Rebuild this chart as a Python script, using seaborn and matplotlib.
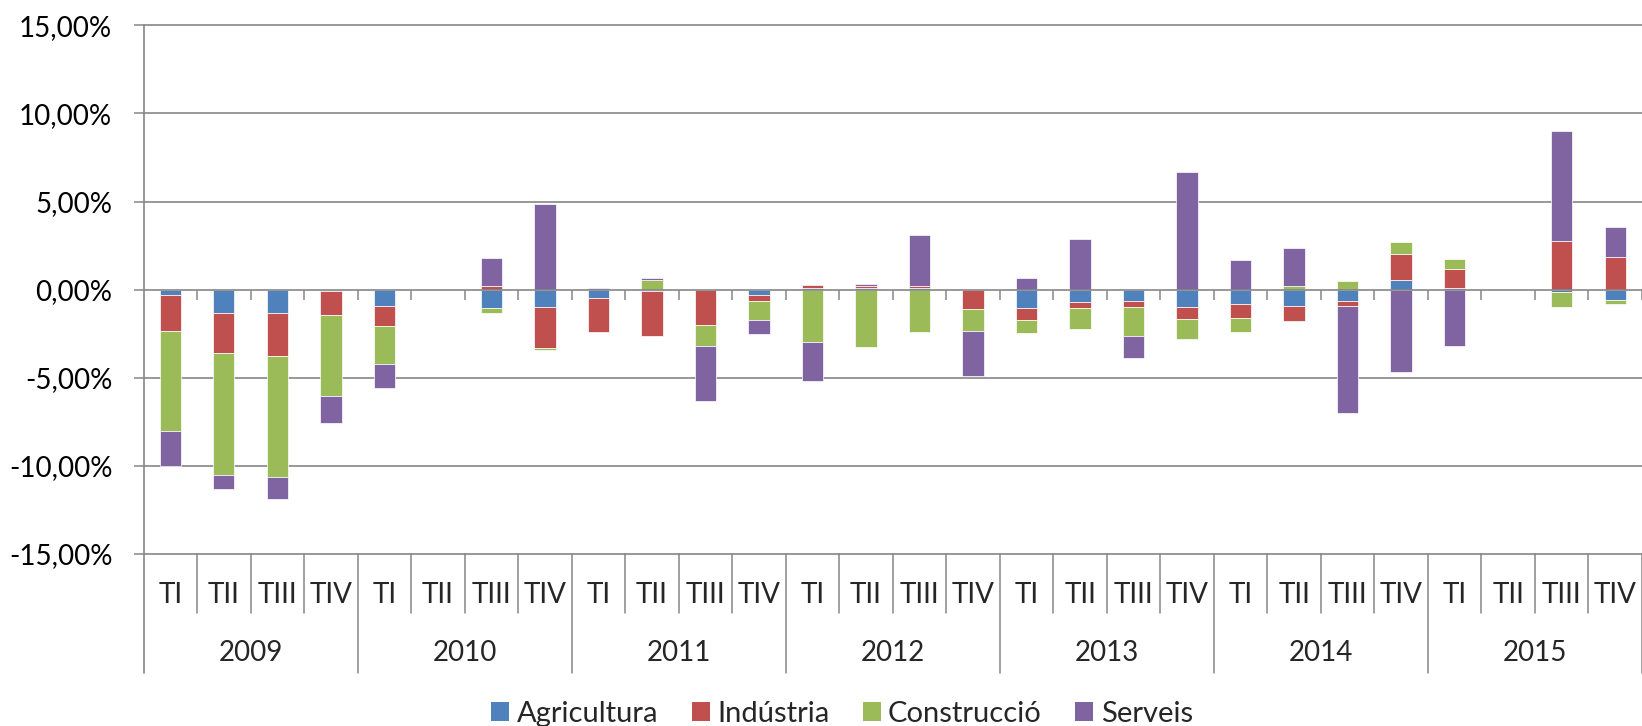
import numpy as np
import pandas as pd
import matplotlib
matplotlib.use("Agg")
import matplotlib.pyplot as plt
import matplotlib.transforms as mtransforms
from matplotlib.patches import Patch
from matplotlib.ticker import FuncFormatter
import seaborn as sns

# ---------------- data ----------------
years = ["2009", "2010", "2011", "2012", "2013", "2014", "2015"]
quarters = ["TI", "TII", "TIII", "TIV"]
series_names = ["Agricultura", "Indústria", "Construcció", "Serveis"]

agricultura = [-0.32, -1.34, -1.34, -0.10, -0.91, 0.00, -1.06, -1.00,
               -0.45, -0.10, 0.00, -0.32, 0.08, 0.10, 0.10, 0.00,
               -1.06, -0.72, -0.64, -0.97, -0.80, -0.95, -0.66, 0.57,
               0.11, 0.00, -0.13, -0.59]
industria = [-2.03, -2.28, -2.43, -1.34, -1.15, 0.00, 0.23, -2.33,
             -1.95, -2.51, -2.00, -0.32, 0.17, 0.13, 0.13, -1.12,
             -0.64, -0.34, -0.36, -0.70, -0.81, -0.83, -0.25, 1.46,
             1.06, 0.00, 2.77, 1.84]
construccio = [-5.68, -6.89, -6.87, -4.60, -2.18, 0.00, -0.25, -0.10,
               0.00, 0.57, -1.18, -1.10, -2.99, -3.24, -2.39, -1.25,
               -0.76, -1.19, -1.61, -1.15, -0.78, 0.23, 0.49, 0.68,
               0.55, 0.00, -0.84, -0.22]
serveis = [-1.95, -0.80, -1.23, -1.52, -1.36, 0.00, 1.55, 4.87,
           0.10, 0.11, -3.16, -0.76, -2.22, 0.12, 2.89, -2.55,
           0.64, 2.86, -1.25, 6.70, 1.70, 2.14, -6.10, -4.66,
           -3.22, 0.00, 6.23, 1.74]

colors = ["#4F81BD", "#C0504D", "#9BBB59", "#8064A2"]

periods = [f"{y} {q}" for y in years for q in quarters]
values = [agricultura, industria, construccio, serveis]

# ---------------- style ----------------
sns.set_theme(style="white")
plt.rcParams["font.family"] = ["Lato", "DejaVu Sans"]
FS = 20
GRID = "#868686"

fig = plt.figure(figsize=(16.42, 7.26), dpi=100)
ax = fig.add_axes([0.0874, 0.2369, 0.9126, 0.7282])

# stacked bars (positive and negative stacks separately, Excel style)
pos = np.zeros(len(periods))
neg = np.zeros(len(periods))
for name, vals, col in zip(series_names, values, colors):
    v = np.asarray(vals, dtype=float)
    bottom = np.where(v >= 0, pos, neg)
    df = pd.DataFrame({"period": periods, "value": v})
    sns.barplot(data=df, x="period", y="value", order=periods, color=col,
                saturation=1, width=0.4, errorbar=None, bottom=bottom,
                edgecolor="white", linewidth=0.5, ax=ax, zorder=2)
    pos = np.where(v >= 0, pos + v, pos)
    neg = np.where(v < 0, neg + v, neg)

n = len(periods)
ax.set_xlim(-0.5, n - 0.5)
ax.set_ylim(-15, 15)
ax.set_yticks([-15, -10, -5, 0, 5, 10, 15])
ax.yaxis.set_major_formatter(FuncFormatter(lambda v, p: f"{v:.2f}".replace(".", ",") + "%"))
ax.set_xticks([])
ax.set_xlabel("")
ax.set_ylabel("")
for s in ax.spines.values():
    s.set_visible(False)
ax.grid(False)
ax.tick_params(axis="y", left=True, length=7.5, width=1.1, color=GRID,
               pad=15, labelsize=FS, labelcolor="black")

# gridlines
for yv in [-15, -10, -5, 5, 10, 15]:
    ax.axhline(yv, color=GRID, lw=1.2, zorder=0.5, clip_on=False)
# zero axis line with down ticks at category boundaries
ax.axhline(0, color=GRID, lw=1.2, zorder=3, clip_on=False)
ax.plot(np.arange(n) + 0.5, np.zeros(n), ls="none", marker=3, ms=7.5,
        mew=1.1, color=GRID, zorder=3, clip_on=False)

trans = mtransforms.blended_transform_factory(ax.transData, ax.transAxes)
# left axis line extending through the label table
ax.plot([-0.5, -0.5], [1, -0.2246], transform=trans, color=GRID, lw=1.2, clip_on=False)
# separators
for k in range(n):
    xb = k + 0.5
    if (k + 1) % 4 == 0:
        ax.plot([xb, xb], [0, -0.2246], transform=trans, color=GRID, lw=1.1, clip_on=False)
    else:
        ax.plot([xb, xb], [0, -0.1116], transform=trans, color=GRID, lw=1.1, clip_on=False)

# category labels
for i, p in enumerate(periods):
    q = p.split(" ")[1]
    ax.text(i, -0.0776, q, transform=trans, ha="center", va="center", fontsize=FS)
for j, y in enumerate(years):
    ax.text(1.5 + 4 * j, -0.187, y, transform=trans, ha="center", va="center", fontsize=FS)

handles = [Patch(facecolor=c, edgecolor="none") for c in colors]
fig.legend(handles, series_names, loc="center", bbox_to_anchor=(842 / 1642, 0.017),
           ncol=4, frameon=False, fontsize=21, handlelength=0.62, handleheight=0.62,
           handletextpad=0.25, columnspacing=1.15, borderpad=0)

fig.savefig("out.png", dpi=100)
